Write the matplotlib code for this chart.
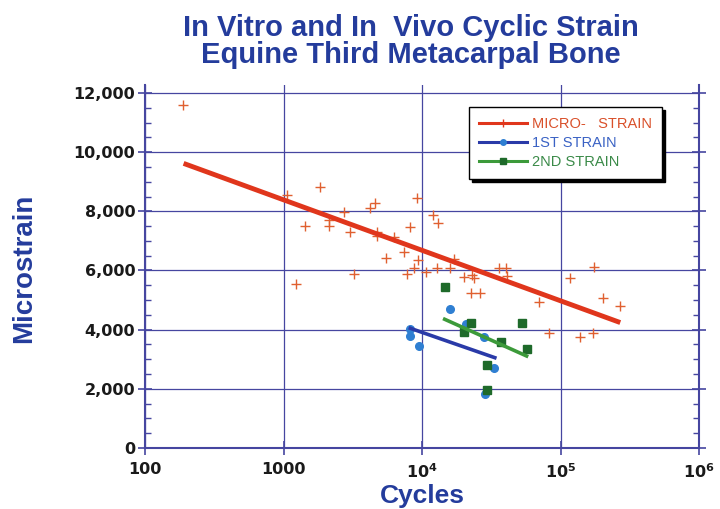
import matplotlib
matplotlib.use("Agg")
import matplotlib.pyplot as plt
from matplotlib.ticker import FixedLocator, MultipleLocator, NullLocator

# micro-strain scatter (cycles, microstrain)
micro_x = [189, 1058, 1236, 1435, 1841, 2115, 2140, 2716, 3035, 3206,
           4237, 4550, 4730, 4730, 5494, 6237, 7379, 7800, 8241, 8710,
           9222, 9310, 10760, 12030, 12860, 13000, 16030, 16950, 20030, 22760,
           23030, 23650, 26130, 35900, 40120, 41230, 69800, 82400, 117000, 137400,
           172600, 174500, 203900, 269000]
micro_y = [11600, 8550, 5530, 7520, 8830, 7710, 7520, 7990, 7310, 5870,
           8120, 8290, 7310, 7170, 6430, 7140, 6640, 5870, 7480, 6075,
           8440, 6360, 5960, 7860, 6075, 7600, 6075, 6380, 5790, 5250,
           5850, 5740, 5250, 6075, 6075, 5815, 4930, 3880, 5760, 3760,
           3900, 6110, 5080, 4810]
micro_fit_x = [190, 270000]
micro_fit_y = [9620, 4240]

first_x = [8241, 8241, 9460, 15850, 20940, 27940, 32990, 28700]
first_y = [4023, 3786, 3448, 4699, 4192, 3763, 2694, 1826]
first_fit_x = [8241, 33560]
first_fit_y = [4046, 3053]

second_x = [14580, 22760, 20260, 36880, 52960, 56900, 29560, 29560]
second_y = [5453, 4216, 3932, 3594, 4236, 3337, 2806, 1961]
second_fit_x = [14580, 56900]
second_fit_y = [4351, 3110]

x_ticks = [100, 1000, 1e4, 1e5, 1e6]
x_labels = ["100", "1000", "10$^{4}$", "10$^{5}$", "10$^{6}$"]
y_ticks = [0, 2000, 4000, 6000, 8000, 10000, 12000]
y_labels = ["0", "2,000", "4,000", "6,000", "8,000", "10,000", "12,000"]

AXIS_BLUE = "#4646a0"
TITLE_BLUE = "#243c9c"
RED = "#e0361c"
BLUE_LINE = "#2a3aa8"
BLUE_PT = "#2f7fd2"
GREEN_LINE = "#3c9a3a"
GREEN_PT = "#1e6a2a"

plt.rcParams["mathtext.default"] = "bf"

fig = plt.figure(figsize=(7.2, 5.09), dpi=100)
ax = fig.add_axes([145 / 720, 1 - 448 / 509, 554 / 720, 363 / 509])

ax.set_xscale("log")
ax.set_xlim(100, 1e6)
ax.set_ylim(0, 12270)

ax.plot(micro_x, micro_y, linestyle="none", marker="+", color="#e06030",
        markersize=7.5, markeredgewidth=1.0, zorder=3)
ax.plot(micro_fit_x, micro_fit_y, color=RED, linewidth=3.5,
        solid_capstyle="butt", zorder=4)
ax.plot(first_x, first_y, linestyle="none", marker="o", color=BLUE_PT,
        markersize=5.5, zorder=3)
ax.plot(first_fit_x, first_fit_y, color=BLUE_LINE, linewidth=2.6, zorder=4)
ax.plot(second_x, second_y, linestyle="none", marker="s", color=GREEN_PT,
        markersize=5.5, zorder=3)
ax.plot(second_fit_x, second_fit_y, color=GREEN_LINE, linewidth=2.6, zorder=4)

# legend proxies
h1, = ax.plot([], [], color=RED, linewidth=2.2, marker="|", markersize=6,
              markeredgewidth=1, label="MICRO-   STRAIN")
h2, = ax.plot([], [], color=BLUE_LINE, linewidth=2.2, marker="o",
              markersize=4, markerfacecolor=BLUE_PT, markeredgecolor=BLUE_PT,
              label="1ST STRAIN")
h3, = ax.plot([], [], color=GREEN_LINE, linewidth=2.2, marker="s",
              markersize=4, markerfacecolor=GREEN_PT, markeredgecolor=GREEN_PT,
              label="2ND STRAIN")
leg = ax.legend(handles=[h1, h2, h3], loc="upper left",
                bbox_to_anchor=(0.585, 0.94), borderaxespad=0,
                frameon=True, fancybox=False, shadow={"color": "black", "alpha": 1},
                handlelength=3.3, handletextpad=0.3, labelspacing=0.35,
                borderpad=0.7,
                prop={"family": "Liberation Sans", "size": 10.5})
leg.get_frame().set_edgecolor("black")
leg.get_frame().set_linewidth(1.0)
for txt, c in zip(leg.get_texts(), ["#d9502a", "#3a62c4", "#3a8a48"]):
    txt.set_color(c)
leg.set_zorder(6)

ax.xaxis.set_major_locator(FixedLocator(x_ticks))
ax.xaxis.set_minor_locator(NullLocator())
ax.set_xticklabels(x_labels)
ax.yaxis.set_major_locator(FixedLocator(y_ticks))
ax.yaxis.set_minor_locator(MultipleLocator(500))
ax.set_yticklabels(y_labels)

ax.grid(True, which="major", color=AXIS_BLUE, linewidth=0.9)
ax.set_axisbelow(True)
ax.tick_params(axis="y", which="major", direction="inout", length=10,
               width=1.2, color=AXIS_BLUE, left=True, right=True, pad=2)
ax.tick_params(axis="y", which="minor", direction="in", length=4,
               width=1.0, color=AXIS_BLUE, left=True, right=True)
ax.tick_params(axis="x", which="major", direction="inout", length=10,
               width=1.2, color=AXIS_BLUE, pad=5)
for lab in ax.get_yticklabels() + ax.get_xticklabels():
    lab.set_fontfamily("DejaVu Sans")
    lab.set_fontweight("bold")
    lab.set_fontsize(11.5)
    lab.set_color("#1a1a1a")

ax.spines["top"].set_visible(False)
for s in ["left", "right", "bottom"]:
    ax.spines[s].set_color(AXIS_BLUE)
    ax.spines[s].set_linewidth(1.5)

fig.text(0.57, 1 - 36 / 509, "In Vitro and In  Vivo Cyclic Strain",
         ha="center", va="baseline", color=TITLE_BLUE, fontsize=21,
         fontweight="bold", family="Liberation Sans")
fig.text(0.57, 1 - 63 / 509, "Equine Third Metacarpal Bone",
         ha="center", va="baseline", color=TITLE_BLUE, fontsize=21,
         fontweight="bold", family="Liberation Sans")
fig.text(24 / 720, 1 - 268 / 509, "Microstrain", rotation=90, ha="center",
         va="center", color=TITLE_BLUE, fontsize=20, fontweight="bold",
         family="Liberation Sans")
fig.text(422 / 720, 1 - 503 / 509, "Cycles", ha="center", va="baseline",
         color=TITLE_BLUE, fontsize=19, fontweight="bold",
         family="Liberation Sans")

fig.savefig("out.png", dpi=100)
